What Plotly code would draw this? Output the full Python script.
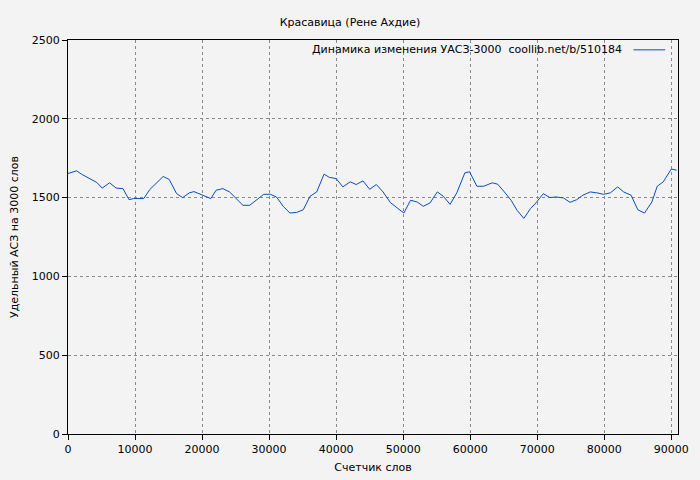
import plotly.graph_objects as go

words = [0,1300,2000,3500,4300,5100,6200,7200,8200,9100,9800,11300,12200,12700,14200,15100,16200,17100,18100,18800,20200,21300,22100,23100,24100,25100,26100,27100,28400,29200,30200,31100,32100,33100,34100,35100,36100,37100,38200,39000,40000,41000,42100,43000,44000,45000,46000,47000,48100,49000,50100,51100,52100,53000,54000,55100,56000,57000,58000,59200,59900,61000,62000,63300,64100,65100,66100,67000,68000,69000,69800,70900,71900,72800,73900,74900,75900,76800,77900,78900,79900,80900,82000,82900,84000,85000,86000,87100,87900,88800,90000,90800]
values = [1653,1670,1649,1615,1596,1560,1594,1560,1557,1487,1494,1494,1551,1572,1634,1615,1525,1500,1530,1538,1513,1494,1547,1557,1536,1494,1451,1451,1494,1521,1521,1504,1445,1402,1406,1423,1508,1536,1649,1628,1621,1568,1600,1583,1606,1553,1583,1536,1468,1436,1402,1483,1472,1445,1466,1536,1508,1457,1530,1657,1664,1572,1572,1594,1585,1536,1483,1419,1368,1430,1466,1525,1500,1504,1498,1470,1487,1515,1536,1530,1521,1530,1568,1536,1515,1423,1402,1472,1572,1600,1681,1674]
legend_text = "Динамика изменения УАСЗ-3000  coollib.net/b/510184"
LINE = "#0a4cc0"

fig = go.Figure(go.Scatter(x=words, y=values, mode="lines",
    line=dict(color=LINE, width=1), name=legend_text, showlegend=False))

ax = dict(showline=True, linecolor="black", linewidth=1, mirror=True,
          gridcolor="#8a8a8a", griddash="dot", gridwidth=1, zeroline=False,
          ticks="outside", ticklen=5, tickcolor="black", automargin=False,
          tickfont=dict(size=11, color="black"))
fig.update_layout(
    width=700, height=480, paper_bgcolor="#f3f3f3", plot_bgcolor="#f3f3f3",
    margin=dict(l=68, r=22, t=40, b=46, autoexpand=False),
    font=dict(family="DejaVu Sans", size=11, color="black"),
    title=dict(text="Красавица (Рене Ахдие)", x=0.5, y=0.962, xanchor="center", font=dict(size=11)),
    xaxis=dict(ax, range=[0, 91000], dtick=10000, tickformat="d",
               title=dict(text="Счетчик слов", font=dict(size=11), standoff=8)),
    yaxis=dict(ax, range=[0, 2500], dtick=500,
               title=dict(text="Удельный АСЗ на 3000 слов", font=dict(size=11), standoff=10)),
)
fig.add_annotation(text=legend_text, xref="paper", yref="paper", x=0.911, y=0.975,
                   xanchor="right", yanchor="middle", showarrow=False, font=dict(size=11))
fig.add_shape(type="line", xref="paper", yref="paper", x0=0.927, x1=0.979, y0=0.975, y1=0.975,
              line=dict(color=LINE, width=1))
fig.write_html("out.html", config={"displayModeBar": False},
               post_script="document.body.style.margin='0';document.body.style.background='#f3f3f3';")
